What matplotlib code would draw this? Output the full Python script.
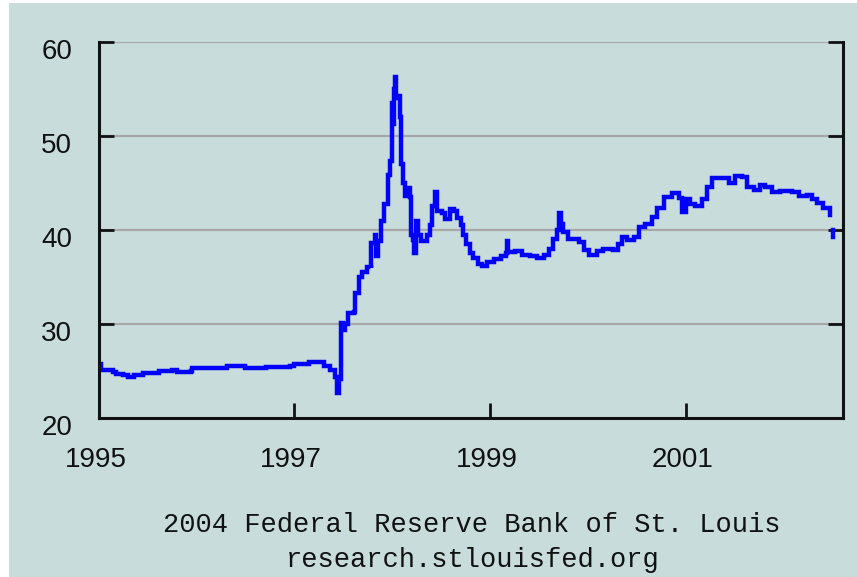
import numpy as np
import matplotlib.pyplot as plt
import matplotlib.transforms as mtransforms
from matplotlib.patches import Rectangle

# Thai baht per US dollar, decimal year vs. rate
years = [
    1995.00, 1995.01, 1995.03, 1995.15, 1995.18, 1995.25, 1995.30, 1995.36,
    1995.45, 1995.60, 1995.62, 1995.75, 1995.80, 1995.94, 1995.96, 1996.20,
    1996.30, 1996.31, 1996.50, 1996.69, 1996.71, 1996.96, 1997.00, 1997.12,
    1997.15, 1997.26, 1997.30, 1997.37, 1997.42, 1997.44, 1997.46, 1997.48,
    1997.50, 1997.52, 1997.55, 1997.61, 1997.62, 1997.66, 1997.69, 1997.74,
    1997.78, 1997.79, 1997.83, 1997.84, 1997.86, 1997.89, 1997.92, 1997.96,
    1997.98, 1998.00, 1998.01, 1998.02, 1998.03, 1998.04, 1998.06, 1998.08,
    1998.09, 1998.11, 1998.13, 1998.16, 1998.18, 1998.19, 1998.21, 1998.22,
    1998.24, 1998.25, 1998.27, 1998.30, 1998.36, 1998.39, 1998.41, 1998.44,
    1998.46, 1998.51, 1998.54, 1998.59, 1998.63, 1998.66, 1998.70, 1998.73,
    1998.76, 1998.80, 1998.83, 1998.88, 1998.92, 1998.97, 1999.04, 1999.11,
    1999.16, 1999.17, 1999.19, 1999.26, 1999.33, 1999.41, 1999.48, 1999.55,
    1999.60, 1999.65, 1999.69, 1999.71, 1999.73, 1999.75, 1999.80, 1999.87,
    1999.91, 1999.96, 2000.01, 2000.09, 2000.16, 2000.26, 2000.31, 2000.35,
    2000.40, 2000.47, 2000.52, 2000.59, 2000.66, 2000.71, 2000.78, 2000.86,
    2000.93, 2000.96, 2001.00, 2001.05, 2001.10, 2001.17, 2001.22, 2001.27,
    2001.39, 2001.44, 2001.51, 2001.58, 2001.63, 2001.70, 2001.76, 2001.81,
    2001.88, 2001.97, 2002.09, 2002.16, 2002.24, 2002.29, 2002.34, 2002.41,
    2002.48,
]
rates = [
    25.5, 25.8, 25.1, 24.9, 24.7, 24.6, 24.4, 24.6,
    24.8, 24.8, 25.0, 25.1, 24.9, 25.0, 25.3, 25.3,
    25.3, 25.6, 25.3, 25.3, 25.5, 25.6, 25.8, 25.8,
    26.0, 26.0, 25.6, 25.1, 24.4, 22.7, 24.2, 30.1,
    29.4, 30.0, 31.2, 31.3, 33.3, 35.0, 35.5, 36.1,
    36.0, 38.6, 39.5, 37.2, 38.8, 41.0, 42.8, 45.8,
    47.3, 53.5, 51.3, 55.0, 56.3, 54.0, 54.2, 52.0,
    47.0, 45.0, 43.6, 44.5, 43.5, 39.5, 38.9, 37.6,
    39.0, 41.0, 39.5, 38.8, 39.5, 40.5, 42.5, 44.0,
    42.0, 41.8, 41.2, 42.2, 42.0, 41.3, 40.5, 39.5,
    38.5, 37.6, 37.0, 36.4, 36.2, 36.6, 36.9, 37.2,
    37.6, 38.8, 37.7, 37.8, 37.4, 37.2, 37.0, 37.4,
    38.0, 39.0, 40.0, 41.8, 40.6, 39.8, 39.0, 39.0,
    38.7, 37.9, 37.4, 37.8, 38.0, 37.9, 38.5, 39.3,
    38.9, 39.3, 40.3, 40.6, 41.4, 42.3, 43.5, 43.9,
    43.4, 41.9, 43.3, 42.8, 42.6, 43.3, 44.6, 45.5,
    45.5, 45.0, 45.7, 45.6, 44.6, 44.3, 44.8, 44.6,
    44.0, 44.1, 44.0, 43.6, 43.7, 43.3, 42.9, 42.3,
    41.6,
]
# last observations, drawn apart from the main line
tail_years = [2002.51, 2002.51]
tail_rates = [40.0, 39.3]

year_ticks = [1995, 1997, 1999, 2001]
rate_ticks = [20, 30, 40, 50, 60]

bg = "#c8dcdc"
fig = plt.figure(figsize=(8.57, 5.77), dpi=100, facecolor=bg)
# thin white margin on the left and top edges
fig.patches.append(Rectangle((0, 0), 9 / 857, 1, transform=fig.transFigure,
                             facecolor="white", edgecolor="none", zorder=-5))
fig.patches.append(Rectangle((0, 1 - 3 / 577), 1, 3 / 577, transform=fig.transFigure,
                             facecolor="white", edgecolor="none", zorder=-5))

ax = fig.add_axes([0.115, 0.275, 0.8687, 0.6527])
ax.set_facecolor(bg)

ax.plot(years, rates, color="#0000ff", lw=3.2, drawstyle="steps-post",
        solid_joinstyle="miter")
ax.plot(tail_years, tail_rates, color="#0000ff", lw=3.2)

ax.set_xlim(1995.0, 2002.61)
ax.set_ylim(20, 60)

for v in rate_ticks[1:]:
    ax.axhline(v, color="#a8a8a8", lw=1.6, zorder=1)

for side in ["left", "bottom", "right"]:
    ax.spines[side].set_linewidth(2.2)
    ax.spines[side].set_color("#111111")
ax.spines["top"].set_visible(False)

ax.set_xticks(year_ticks)
ax.set_xticklabels([str(y) for y in year_ticks])
ax.set_yticks(rate_ticks)
ax.set_yticklabels([str(r) for r in rate_ticks])

ax.tick_params(axis="x", direction="in", length=10.5, width=2, pad=21,
               labelsize=20, colors="#111111")
ax.tick_params(axis="y", direction="in", length=10.5, width=2, pad=19,
               labelsize=20, colors="#111111", right=True)
for lab in ax.get_xticklabels() + ax.get_yticklabels():
    lab.set_fontfamily("Liberation Sans")

# nudge the labels a little, like the original graphing tool does
dy = mtransforms.ScaledTranslation(0, -7 / 100, fig.dpi_scale_trans)
for lab in ax.get_yticklabels():
    lab.set_transform(lab.get_transform() + dy)
dx = mtransforms.ScaledTranslation(-3 / 100, 0, fig.dpi_scale_trans)
for lab in ax.get_xticklabels():
    lab.set_transform(lab.get_transform() + dx)

fig.text(0.551, 1 - 532 / 577, "2004 Federal Reserve Bank of St. Louis",
         ha="center", va="baseline", fontsize=19.5, family="Liberation Mono",
         color="#111111")
fig.text(0.551, 1 - 567 / 577, "research.stlouisfed.org",
         ha="center", va="baseline", fontsize=19.5, family="Liberation Mono",
         color="#111111")

fig.savefig("out.png", dpi=100, facecolor=fig.get_facecolor())
